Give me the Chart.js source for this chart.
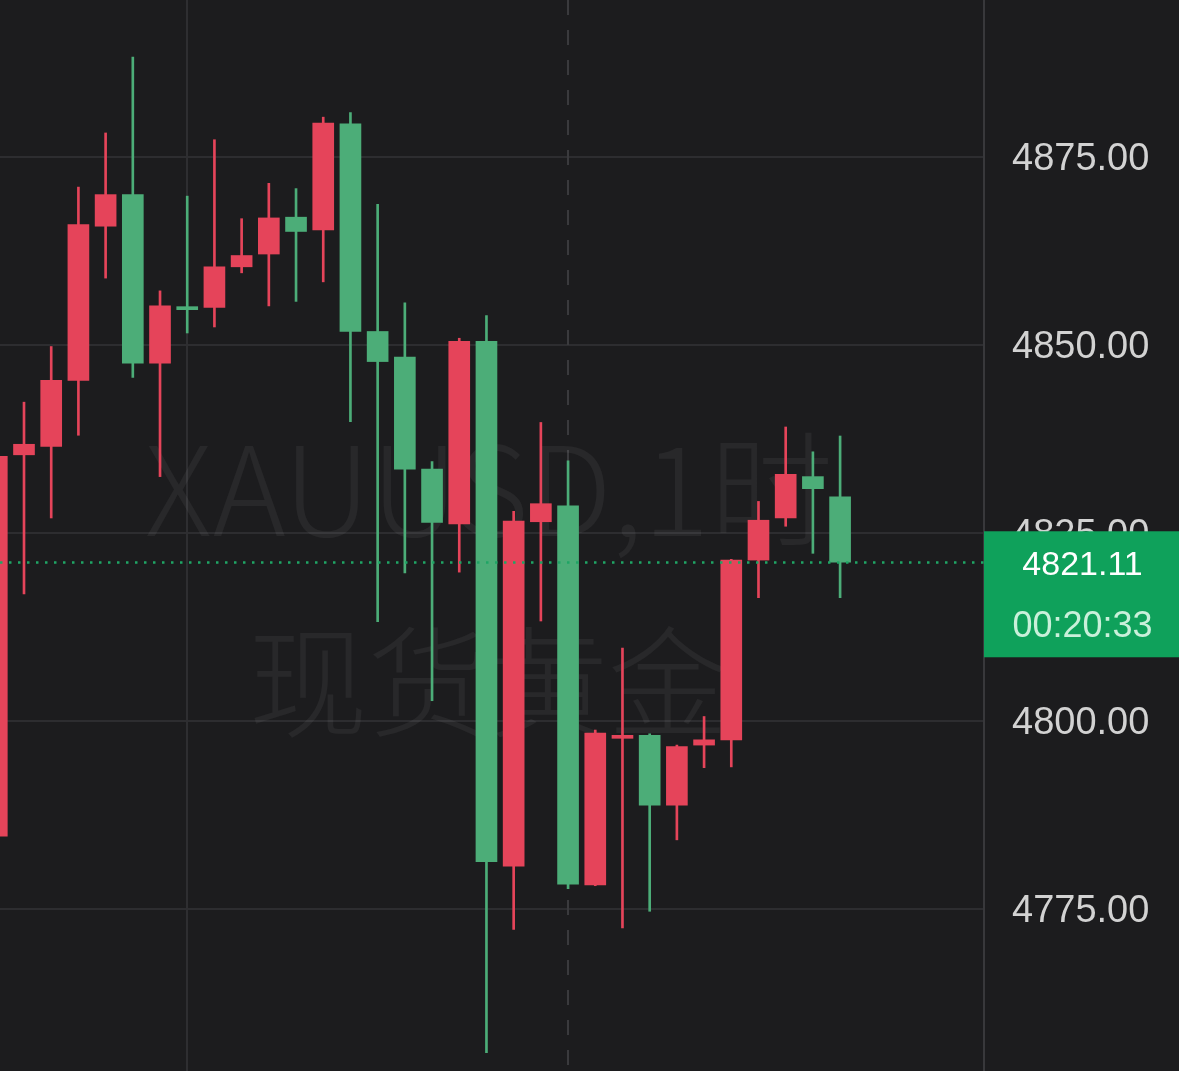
<!DOCTYPE html>
<html>
<head>
<meta charset="utf-8">
<script src="https://cdn.jsdelivr.net/npm/chart.js@4.4.1/dist/chart.umd.min.js"></script>
<style>
  html, body { margin: 0; padding: 0; background: #1c1c1e; overflow: hidden; }
  #wrap { width: 1179px; height: 1071px; position: relative; }
</style>
</head>
<body>
<div id="wrap"><canvas id="c"></canvas></div>
<script>
// ---- data (hourly XAUUSD candles) ----
const candleIndex = [0,1,2,3,4,5,6,7,8,9,10,11,12,13,14,15,16,17,18,19,20,21,22,23,24,25,26,27,28,29,30,31];
const opens  = [4784.7,4835.4,4836.5,4845.3,4865.8,4870.0,4847.6,4855.1,4855.0,4860.4,4862.1,4867.0,4865.3,4879.4,4851.8,4848.4,4833.5,4826.2,4850.5,4780.7,4826.5,4828.6,4778.2,4797.7,4798.1,4788.8,4796.8,4797.5,4821.4,4827.0,4832.5,4829.8];
const highs  = [4838.0,4842.4,4849.8,4871.0,4878.2,4888.3,4857.2,4869.8,4877.3,4866.8,4871.5,4870.8,4880.3,4880.9,4868.7,4855.6,4834.5,4850.9,4853.9,4827.9,4839.7,4834.6,4798.8,4809.7,4798.3,4796.8,4800.6,4821.5,4829.2,4839.1,4835.8,4837.9];
const lows   = [4782.0,4816.9,4827.0,4838.0,4858.9,4845.7,4832.5,4851.6,4852.4,4859.6,4855.2,4855.8,4858.4,4839.8,4813.2,4819.7,4802.7,4819.8,4755.9,4772.3,4813.3,4777.7,4778.1,4772.5,4774.7,4784.2,4793.8,4793.9,4816.4,4825.9,4822.3,4816.4];
const closes = [4835.2,4836.8,4845.3,4866.0,4870.0,4847.6,4855.2,4854.7,4860.4,4861.9,4866.9,4865.1,4879.5,4851.8,4847.8,4833.5,4826.4,4850.5,4781.3,4826.6,4828.9,4778.3,4798.4,4798.1,4788.8,4796.6,4797.5,4821.4,4826.7,4832.8,4830.9,4821.11];
const yTickValues = [4775, 4800, 4825, 4850, 4875];
const lastPrice = 4821.11;
const countdown = "00:20:33";
const watermarkLine1 = "XAUUSD,1时";
const watermarkLine2 = "现货黄金";
const separatorSolidIndex = 7;
const separatorDashedIndex = 21;

// ---- styles ----
const UP = '#e5445a';
const DOWN = '#4cad78';
const colorFor = (i) => closes[i] >= opens[i] ? UP : DOWN;

const wickData = candleIndex.map((x, i) => ({ x, y: [lows[i], highs[i]] }));
const bodyData = candleIndex.map((x, i) => ({ x, y: [opens[i], closes[i]] }));

const overlay = {
  id: 'overlay',
  beforeDatasetsDraw(chart) {
    const { ctx, chartArea: a, scales } = chart;
    ctx.save();
    ctx.beginPath();
    ctx.rect(a.left, a.top, a.right - a.left, a.bottom - a.top);
    ctx.clip();
    ctx.lineWidth = 2;
    ctx.strokeStyle = '#2e2e31';
    let xs = Math.round(scales.x.getPixelForValue(separatorSolidIndex));
    ctx.beginPath(); ctx.moveTo(xs, a.top); ctx.lineTo(xs, a.bottom); ctx.stroke();
    ctx.strokeStyle = '#3a3a3d';
    ctx.setLineDash([15, 15]);
    let xd = Math.round(scales.x.getPixelForValue(separatorDashedIndex));
    ctx.beginPath(); ctx.moveTo(xd, a.top); ctx.lineTo(xd, a.bottom); ctx.stroke();
    ctx.setLineDash([]);
    ctx.fillStyle = 'rgba(255,255,255,0.055)';
    ctx.textAlign = 'center';
    ctx.textBaseline = 'alphabetic';
    ctx.font = '200 124px "Noto Sans CJK SC", "Noto Sans", sans-serif';
    ctx.fillText(watermarkLine1, 489, 536);
    ctx.textBaseline = 'middle';
    ctx.font = '200 120px "Noto Sans CJK SC", sans-serif';
    ctx.fillText(watermarkLine2, 488, 682);
    ctx.restore();
  },
  afterDatasetsDraw(chart) {
    const { ctx, chartArea: a, scales } = chart;
    const y = Math.round(scales.y.getPixelForValue(lastPrice)) + 0.5;
    ctx.save();
    ctx.strokeStyle = '#1fa565';
    ctx.lineWidth = 2.5;
    ctx.setLineDash([2.5, 6.5]);
    ctx.beginPath(); ctx.moveTo(a.left, y); ctx.lineTo(a.right, y); ctx.stroke();
    ctx.restore();
  },
  afterDraw(chart) {
    const { ctx, chartArea: a, scales } = chart;
    const y = scales.y.getPixelForValue(lastPrice);
    const left = a.right;
    const right = chart.width;
    ctx.save();
    ctx.fillStyle = '#0fa15b';
    ctx.fillRect(left, y - 31, right - left, 126);
    const cx = (left + right) / 2 + 1;
    ctx.textAlign = 'center';
    ctx.textBaseline = 'middle';
    ctx.fillStyle = '#ffffff';
    ctx.font = '34px "Liberation Sans", Arial, sans-serif';
    ctx.fillText(lastPrice.toFixed(2), cx, y + 3);
    ctx.fillStyle = '#c9f0da';
    ctx.font = '36px "Liberation Sans", Arial, sans-serif';
    ctx.fillText(countdown, cx, y + 65);
    ctx.restore();
  }
};

new Chart(document.getElementById('c'), {
  type: 'bar',
  data: {
    datasets: [
      {
        label: 'wick',
        data: wickData,
        barThickness: 2,
        grouped: false,
        order: 2,
        backgroundColor: (c) => colorFor(c.dataIndex),
        borderWidth: 0,
        borderSkipped: false
      },
      {
        label: 'body',
        data: bodyData,
        barThickness: 21,
        grouped: false,
        order: 1,
        minBarLength: 3,
        backgroundColor: (c) => colorFor(c.dataIndex),
        borderWidth: 0,
        borderSkipped: false
      }
    ]
  },
  options: {
    responsive: true,
    maintainAspectRatio: false,
    animation: false,
    events: [],
    layout: { padding: 0 },
    plugins: { legend: { display: false }, tooltip: { enabled: false } },
    scales: {
      x: {
        type: 'linear',
        display: false,
        min: 0.1176,
        max: 36.29,
        offset: false
      },
      y: {
        type: 'linear',
        position: 'right',
        min: 4753.46,
        max: 4895.88,
        afterBuildTicks: (s) => { s.ticks = yTickValues.map(v => ({ value: v })); },
        afterFit: (s) => { s.width = 195; s.paddingTop = 0; s.paddingBottom = 0; },
        grid: { color: '#2d2d30', lineWidth: 2, drawTicks: false },
        border: { display: true, color: '#38383b', width: 2 },
        ticks: {
          crossAlign: 'near',
          padding: 28,
          labelOffset: 2,
          color: '#d2d2d2',
          font: { family: '"Liberation Sans", Arial, sans-serif', size: 38 },
          callback: (v) => Number(v).toFixed(2)
        }
      }
    }
  },
  plugins: [overlay]
});
</script>
</body>
</html>
